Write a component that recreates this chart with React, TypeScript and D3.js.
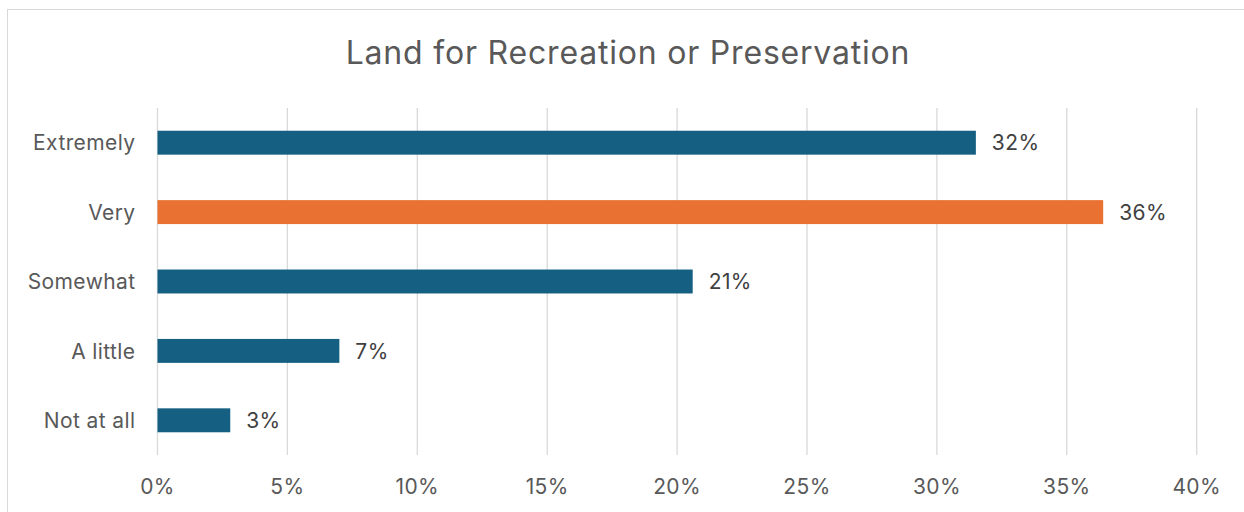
import React, { useEffect, useRef } from "react"
import * as d3 from "d3"

const WIDTH = 1244
const HEIGHT = 512
const MARGIN = { top: 108, right: 47, bottom: 57, left: 157.5 }

const categories = ["Extremely", "Very", "Somewhat", "A little", "Not at all"]
const values = [0.315, 0.364, 0.206, 0.07, 0.028]
const valueLabels = ["32%", "36%", "21%", "7%", "3%"]
const ticks = [0, 0.05, 0.1, 0.15, 0.2, 0.25, 0.3, 0.35, 0.4]

const BLUE = "#156082"
const ORANGE = "#E97132"
const FONT = "Inter, 'Open Sans', sans-serif"
const LABEL_SIZE = 21

const App: React.FC = () => {
    const svgRef = useRef<SVGSVGElement | null>(null)

    useEffect(() => {
        if (!svgRef.current) return
        const svg = d3.select(svgRef.current)
        svg.selectAll("*").remove()

        const innerWidth = 1196.7 - MARGIN.left
        const innerHeight = HEIGHT - MARGIN.top - MARGIN.bottom

        // chart border
        svg.append("rect")
            .attr("x", 7.5)
            .attr("y", 9.5)
            .attr("width", 1250)
            .attr("height", 520)
            .attr("fill", "#fff")
            .attr("stroke", "#d9d9d9")
            .attr("stroke-width", 1)

        svg.append("text")
            .attr("x", 628)
            .attr("y", 64)
            .attr("text-anchor", "middle")
            .attr("font-family", FONT)
            .attr("font-size", 32)
            .attr("letter-spacing", 0.8)
            .attr("fill", "#595959")
            .text("Land for Recreation or Preservation")

        const x = d3.scaleLinear().domain([0, 0.4]).range([0, innerWidth])
        const y = d3
            .scaleBand<string>()
            .domain(categories)
            .range([0, innerHeight])
            .paddingInner(0.655)
            .paddingOuter(0.3275)

        const chart = svg
            .append("g")
            .attr("transform", `translate(${MARGIN.left},${MARGIN.top})`)

        // gridlines
        chart
            .selectAll("line.grid")
            .data(ticks)
            .enter()
            .append("line")
            .attr("x1", d => x(d))
            .attr("x2", d => x(d))
            .attr("y1", 0)
            .attr("y2", innerHeight)
            .attr("stroke", "#d9d9d9")
            .attr("stroke-width", 1.3)

        // x tick labels
        chart
            .selectAll("text.tick")
            .data(ticks)
            .enter()
            .append("text")
            .attr("x", d => x(d))
            .attr("y", innerHeight + 39)
            .attr("text-anchor", "middle")
            .attr("font-family", FONT)
            .attr("font-size", LABEL_SIZE)
            .attr("letter-spacing", 0.4)
            .attr("fill", "#595959")
            .text(d => d3.format(".0%")(d))

        // category labels
        chart
            .selectAll("text.cat")
            .data(categories)
            .enter()
            .append("text")
            .attr("x", -22)
            .attr("y", d => y(d)! + y.bandwidth() / 2)
            .attr("dy", "0.37em")
            .attr("text-anchor", "end")
            .attr("font-family", FONT)
            .attr("font-size", LABEL_SIZE)
            .attr("letter-spacing", 0.4)
            .attr("fill", "#595959")
            .text(d => d)

        // bars
        chart
            .selectAll("rect.bar")
            .data(categories)
            .enter()
            .append("rect")
            .attr("x", 0)
            .attr("y", d => y(d)!)
            .attr("width", (_, i) => x(values[i]))
            .attr("height", y.bandwidth())
            .attr("fill", d => (d === "Very" ? ORANGE : BLUE))

        // value labels
        chart
            .selectAll("text.val")
            .data(categories)
            .enter()
            .append("text")
            .attr("x", (_, i) => x(values[i]) + 16)
            .attr("y", d => y(d)! + y.bandwidth() / 2)
            .attr("dy", "0.37em")
            .attr("font-family", FONT)
            .attr("font-size", LABEL_SIZE)
            .attr("letter-spacing", 0.4)
            .attr("fill", "#404040")
            .text((_, i) => valueLabels[i])
    }, [])

    return (
        <svg
            ref={svgRef}
            width={WIDTH}
            height={HEIGHT}
            style={{ position: "absolute", left: 0, top: 0 }}
        />
    )
}

export default App
